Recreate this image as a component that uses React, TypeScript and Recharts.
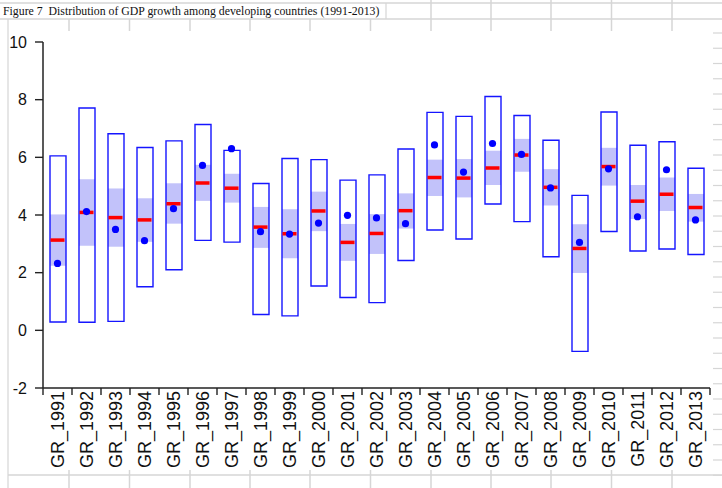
import { Bar, ComposedChart, Scatter, XAxis, YAxis } from "recharts";

const years = [
  "GR_1991", "GR_1992", "GR_1993", "GR_1994", "GR_1995", "GR_1996", "GR_1997", "GR_1998",
  "GR_1999", "GR_2000", "GR_2001", "GR_2002", "GR_2003", "GR_2004", "GR_2005", "GR_2006",
  "GR_2007", "GR_2008", "GR_2009", "GR_2010", "GR_2011", "GR_2012", "GR_2013",
];
const maxs = [6.05, 7.71, 6.82, 6.34, 6.57, 7.14, 6.24, 5.09, 5.96, 5.92, 5.21, 5.39, 6.29, 7.56, 7.42, 8.11, 7.45, 6.59, 4.68, 7.57, 6.42, 6.54, 5.62];
const q3s = [4.02, 5.24, 4.92, 4.58, 5.1, 5.74, 5.43, 4.28, 4.2, 4.81, 3.69, 4.03, 4.75, 5.92, 5.94, 6.23, 6.64, 5.59, 3.68, 6.33, 5.04, 5.3, 4.73];
const medians = [3.13, 4.09, 3.91, 3.83, 4.39, 5.11, 4.93, 3.58, 3.35, 4.14, 3.05, 3.36, 4.15, 5.3, 5.28, 5.63, 6.08, 4.96, 2.84, 5.68, 4.48, 4.72, 4.26];
const q1s = [2.24, 2.93, 2.9, 3.07, 3.7, 4.49, 4.43, 2.86, 2.5, 3.44, 2.41, 2.65, 3.53, 4.66, 4.61, 5.04, 5.5, 4.33, 1.99, 5.02, 3.86, 4.14, 3.77];
const mins = [0.29, 0.28, 0.31, 1.51, 2.1, 3.12, 3.06, 0.55, 0.5, 1.54, 1.14, 0.96, 2.42, 3.48, 3.17, 4.38, 3.77, 2.55, -0.73, 3.43, 2.75, 2.82, 2.63];
const means = [2.32, 4.12, 3.5, 3.11, 4.22, 5.72, 6.3, 3.42, 3.34, 3.72, 3.99, 3.9, 3.7, 6.43, 5.49, 6.48, 6.1, 4.94, 3.05, 5.6, 3.94, 5.57, 3.83];
const yTicks = [-2, 0, 2, 4, 6, 8, 10];

const title = "Figure 7  Distribution of GDP growth among developing countries (1991-2013)";

const rows = years.map((year, i) => ({
  year,
  range: [mins[i], maxs[i]],
  box: [q1s[i], q3s[i]],
  median: medians[i],
  mean: means[i],
}));

const FONT = "'Liberation Sans', Arial, sans-serif";
const GRID = "#d6d6d6";
const HALF_BAND = 667 / 23 / 2;

function YearTick(props: any) {
  const { x, y, payload, index, visibleTicksCount } = props;
  return (
    <g>
      <line x1={x - HALF_BAND} x2={x - HALF_BAND} y1={y} y2={y + 7} stroke="#222" strokeWidth={1.4} />
      {index === visibleTicksCount - 1 && (
        <line x1={x + HALF_BAND} x2={x + HALF_BAND} y1={y} y2={y + 7} stroke="#222" strokeWidth={1.4} />
      )}
      <g transform={`translate(${x},${y + 3})`}>
        <text transform="rotate(-90)" textAnchor="end" dy="0.36em" fontSize={18} fontFamily={FONT} fill="#111">
          {payload.value}
        </text>
      </g>
    </g>
  );
}

function MedianMark(props: any) {
  const { cx, cy } = props;
  return <rect x={cx - 7} y={cy - 1.75} width={14} height={3.5} fill="#ff0000" />;
}

function MeanDot(props: any) {
  const { cx, cy } = props;
  return <circle cx={cx} cy={cy} r={3.6} fill="#0000ff" />;
}

function Backdrop() {
  const cols = [69, 129.5, 190, 250, 310, 370.5, 431, 491, 551, 611.5, 672];
  const rowLines: number[] = [];
  for (let y = 33; y < 488; y += 15.25) rowLines.push(y);
  return (
    <svg width={722} height={488} style={{ position: "absolute", left: 0, top: 0 }}>
      <line x1={0} x2={722} y1={3} y2={3} stroke={GRID} strokeWidth={1.5} />
      <line x1={0} x2={722} y1={19} y2={19} stroke={GRID} strokeWidth={1.5} />
      <line x1={8} x2={8} y1={19} y2={488} stroke={GRID} strokeWidth={1.2} />
      <line x1={8} x2={722} y1={475} y2={475} stroke={GRID} strokeWidth={1.5} />
      {cols.map((c) => (
        <g key={c}>
          <line x1={c} x2={c} y1={c >= 431 ? 0 : 19} y2={31} stroke={GRID} strokeWidth={1.5} />
          <line x1={c} x2={c} y1={470} y2={488} stroke={GRID} strokeWidth={1.5} />
        </g>
      ))}
      {rowLines.map((y) => (
        <line key={y} x1={713} x2={722} y1={y} y2={y} stroke={GRID} strokeWidth={1.2} />
      ))}
      <rect x={0} y={4} width={386} height={14} fill="#fff" />
      <line x1={386} x2={386} y1={3} y2={19} stroke={GRID} strokeWidth={1.2} />
      <text
        x={3}
        y={15}
        fontSize={11.8}
        fontFamily="'Liberation Serif', 'Times New Roman', serif"
        fill="#111"
        style={{ whiteSpace: "pre" }}
      >
        {title}
      </text>
    </svg>
  );
}

export default function App() {
  return (
    <div style={{ position: "absolute", left: 0, top: 0, width: 722, height: 488, background: "#fff", overflow: "hidden" }}>
      <Backdrop />
      <div style={{ position: "absolute", left: 0, top: 0 }}>
        <ComposedChart
          width={722}
          height={488}
          data={rows}
          margin={{ top: 42, right: 12, bottom: 0, left: 0 }}
          barGap={-16}
          barCategoryGap={0}
        >
          <XAxis
            dataKey="year"
            height={100}
            interval={0}
            tickSize={0}
            tickMargin={0}
            tickLine={false}
            axisLine={{ stroke: "#222", strokeWidth: 1.5 }}
            tick={<YearTick />}
          />
          <XAxis
            xAxisId="top"
            dataKey="year"
            orientation="top"
            height={0}
            tick={false}
            tickLine={false}
            axisLine={{ stroke: "#222", strokeWidth: 1.5 }}
          />
          <YAxis
            domain={[-2, 10]}
            ticks={yTicks}
            width={43}
            tickSize={8}
            tickMargin={8}
            interval={0}
            axisLine={{ stroke: "#222", strokeWidth: 1.5 }}
            tickLine={{ stroke: "#222", strokeWidth: 1.4 }}
            tick={{ fontSize: 16, fontFamily: FONT, fill: "#111" }}
          />
          <YAxis
            yAxisId="right"
            orientation="right"
            domain={[-2, 10]}
            width={0}
            tick={false}
            tickLine={false}
            axisLine={{ stroke: "#222", strokeWidth: 1.5 }}
          />
          <Bar dataKey="box" barSize={16} fill="#c2c2fa" isAnimationActive={false} />
          <Bar dataKey="range" barSize={16} fill="none" stroke="#1515ff" strokeWidth={1.4} isAnimationActive={false} />
          <Scatter dataKey="median" shape={<MedianMark />} isAnimationActive={false} />
          <Scatter dataKey="mean" shape={<MeanDot />} isAnimationActive={false} />
        </ComposedChart>
      </div>
    </div>
  );
}
